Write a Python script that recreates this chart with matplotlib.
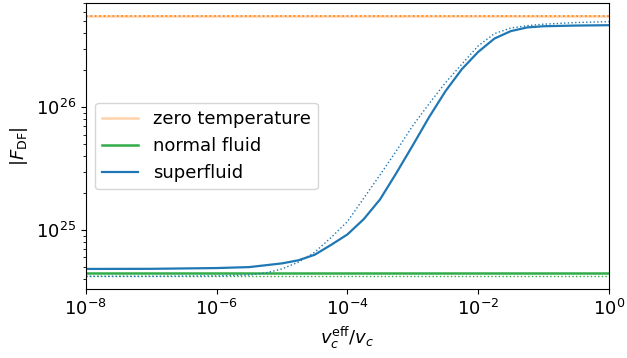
import numpy as np
import matplotlib
matplotlib.use("Agg")
import matplotlib.pyplot as plt
from matplotlib.ticker import NullLocator

# values
x_ends = [1e-8, 1.0]
f_zero = [5.55e26, 5.55e26]
f_zero_approx = [5.5e26, 5.5e26]
f_normal = [4.52e24, 4.52e24]
f_normal_approx = [4.22e24, 4.22e24]

x_super = [1e-8, 1e-7, 1e-6, 3.16e-6, 1e-5, 1.78e-5, 3.16e-5, 5.62e-5, 1e-4, 1.78e-4,
           3.16e-4, 5.62e-4, 1e-3, 1.78e-3, 3.16e-3, 5.62e-3, 1e-2, 1.78e-2, 3.16e-2,
           5.62e-2, 0.1, 0.316, 1.0]
f_super = [4.84e24, 4.85e24, 4.92e24, 5.01e24, 5.37e24, 5.69e24, 6.31e24, 7.59e24, 9.23e24,
           1.23e25, 1.78e25, 2.92e25, 4.90e25, 8.32e25, 1.35e26, 2.04e26, 2.82e26,
           3.63e26, 4.17e26, 4.47e26, 4.57e26, 4.63e26, 4.66e26]

x_super_approx = [1e-8, 1e-7, 1e-6, 3.16e-6, 5.62e-6, 1e-5, 1.78e-5, 3.16e-5, 5.62e-5,
                  1e-4, 1.78e-4, 3.16e-4, 5.62e-4, 1e-3, 1.78e-3, 3.16e-3, 5.62e-3,
                  1e-2, 1.78e-2, 3.16e-2, 5.62e-2, 0.1, 0.316, 1.0]
f_super_approx = [4.22e24, 4.22e24, 4.25e24, 4.32e24, 4.49e24, 4.84e24, 5.50e24, 6.61e24,
                  8.71e24, 1.175e25, 1.82e25, 2.82e25, 4.42e25, 7.08e25, 1.07e26,
                  1.585e26, 2.24e26, 3.16e26, 3.98e26, 4.42e26, 4.62e26, 4.75e26,
                  4.90e26, 4.98e26]

x_ticks = [1e-8, 1e-6, 1e-4, 1e-2, 1.0]

plt.rcParams['font.size'] = 13

fig = plt.figure(figsize=(6.27, 3.58), dpi=100)
ax = fig.add_axes([0.137, 0.192, 0.834, 0.800])

ax.plot(x_ends, f_zero, color='C1', lw=1.8, alpha=0.35, label='zero temperature')
ax.plot(x_ends, f_zero_approx, color='C1', lw=1.2, ls=':')
ax.plot(x_ends, f_normal, color='#30ac48', lw=1.8, label='normal fluid')
ax.plot(x_ends, f_normal_approx, color='#30ac48', lw=1.0, ls=':')
ax.plot(x_super, f_super, color='C0', lw=1.6, label='superfluid')
ax.plot(x_super_approx, f_super_approx, color='C0', lw=1.0, ls=':')

ax.set_xscale('log')
ax.set_yscale('log')
ax.set_xlim(1e-8, 1)
ax.set_xticks(x_ticks)
ax.xaxis.set_minor_locator(NullLocator())
ax.set_xlabel(r'$v_c^{\rm eff}/v_c$')
ax.set_ylabel(r'$|F_{\rm DF}|$')
ax.legend(loc='center left')

fig.savefig('out.png', dpi=100)
